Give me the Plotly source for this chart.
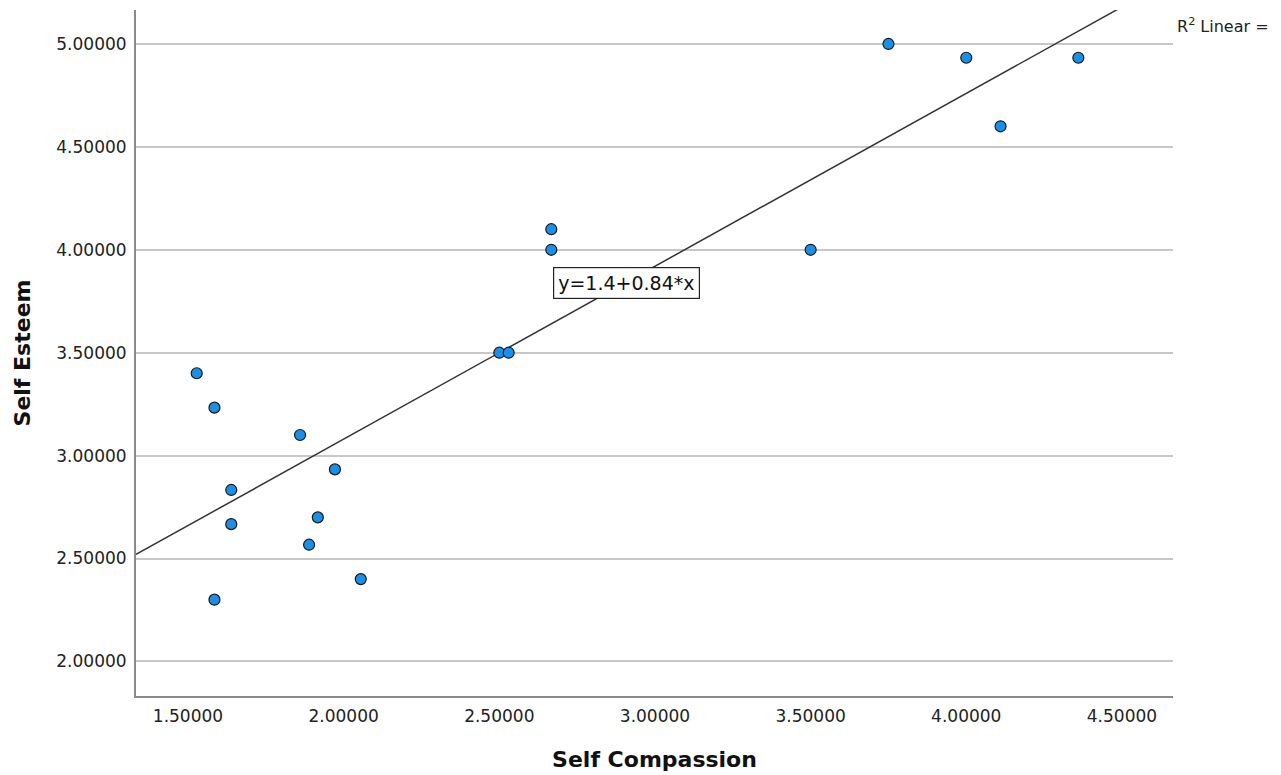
import numpy as np
import plotly.graph_objects as go

# Data (Self Compassion vs Self Esteem)
self_compassion = [1.528, 1.585, 1.860, 1.972, 1.639, 1.917, 1.639, 1.889, 2.055, 1.585,
                   2.667, 2.667, 2.500, 2.530, 3.750, 4.000, 4.360, 4.110, 3.500]
self_esteem = [3.400, 3.233, 3.100, 2.933, 2.833, 2.700, 2.667, 2.567, 2.400, 2.300,
               4.100, 4.000, 3.500, 3.500, 5.000, 4.933, 4.933, 4.600, 4.000]

fit_intercept = 1.4
fit_slope = 0.84
fit_label = "y=1.4+0.84*x"

x_range = [1.333, 4.664]
y_range = [1.832, 5.165]
x_ticks = [1.5, 2.0, 2.5, 3.0, 3.5, 4.0, 4.5]
y_ticks = [2.0, 2.5, 3.0, 3.5, 4.0, 4.5, 5.0]

FONT = "DejaVu Sans"

line_x = np.array(x_range)
line_y = fit_intercept + fit_slope * line_x

fig = go.Figure()
fig.add_trace(go.Scatter(
    x=line_x, y=line_y, mode="lines",
    line=dict(color="#333333", width=1.5),
    hoverinfo="skip", showlegend=False,
))
fig.add_trace(go.Scatter(
    x=self_compassion, y=self_esteem, mode="markers",
    marker=dict(size=11, color="#1A8FE8", line=dict(color="#1a1a1a", width=1.2)),
    showlegend=False,
))

fig.add_annotation(
    x=2.909, y=3.841, xref="x", yref="y",
    text=fit_label, showarrow=False,
    font=dict(family=FONT, size=19, color="#111111"),
    bgcolor="white", bordercolor="#222222", borderwidth=1.2, borderpad=4,
)
fig.add_annotation(
    x=1.0, y=1.0, xref="paper", yref="paper",
    xshift=2, yshift=-15,
    text="R<sup>2</sup> Linear =", showarrow=False,
    font=dict(family=FONT, size=16, color="#222222"),
    xanchor="left", yanchor="middle",
)

fig.update_layout(
    width=1265, height=765,
    margin=dict(l=128, r=100, t=2, b=77),
    paper_bgcolor="white", plot_bgcolor="white",
    font=dict(family=FONT, size=17, color="#222222"),
)
fig.update_xaxes(
    range=x_range, tickvals=x_ticks, tickformat=".5f",
    showgrid=False, zeroline=False,
    showline=True, linecolor="#8a8a8a", linewidth=2,
    ticks="outside", ticklen=4, tickcolor="rgba(0,0,0,0)",
    tickfont=dict(family=FONT, size=17, color="#222222"),
    title=dict(text="<b>Self Compassion</b>", font=dict(family=FONT, size=22, color="#111111"), standoff=26),
)
fig.update_yaxes(
    range=y_range, tickvals=y_ticks, tickformat=".5f",
    showgrid=True, gridcolor="#c8c8c8", gridwidth=1.5, zeroline=False,
    showline=True, linecolor="#8a8a8a", linewidth=2,
    ticks="outside", ticklen=4, tickcolor="rgba(0,0,0,0)",
    tickfont=dict(family=FONT, size=17, color="#222222"),
    title=dict(text="<b>Self Esteem</b>", font=dict(family=FONT, size=22, color="#111111"), standoff=20),
)

fig.write_html("out.html")
